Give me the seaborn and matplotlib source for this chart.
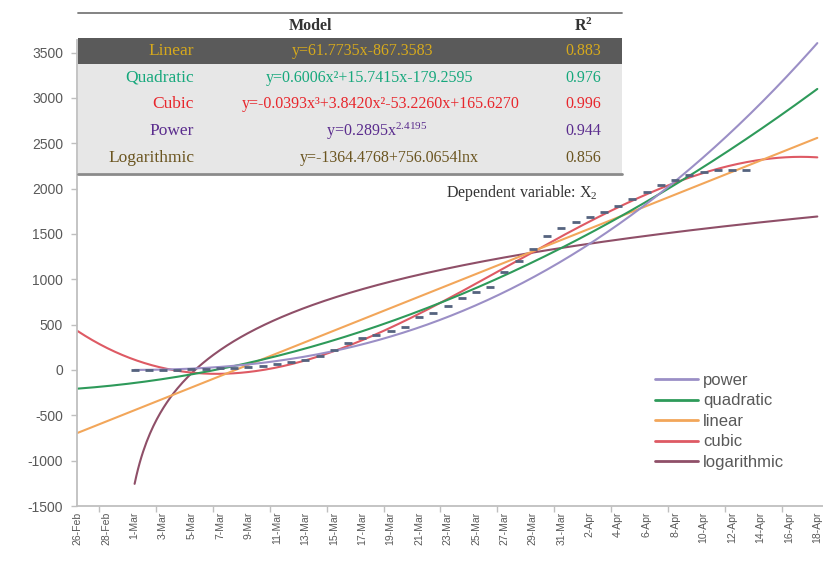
import numpy as np
import pandas as pd
import matplotlib
matplotlib.use("Agg")
import matplotlib.pyplot as plt
import seaborn as sns
from matplotlib.patches import Rectangle
from matplotlib.lines import Line2D

# Daily observations (day 1 = 1-Mar-2020)
obs_day = list(range(1, 45))
obs_value = [2, 2, 4, 5, 8, 12, 17, 24, 33, 45,
             62, 85, 105, 150, 220, 300, 350, 390, 430, 475,
             580, 630, 700, 790, 860, 920, 1080, 1200, 1330, 1480,
             1570, 1630, 1690, 1745, 1810, 1880, 1960, 2040, 2095, 2150,
             2185, 2205, 2210, 2200]

# Category axis: every second day from 26-Feb (day -3) to 18-Apr (day 49)
tick_days = list(range(-3, 50, 2))
tick_labels = ["26-Feb", "28-Feb", "1-Mar", "3-Mar", "5-Mar", "7-Mar", "9-Mar",
               "11-Mar", "13-Mar", "15-Mar", "17-Mar", "19-Mar", "21-Mar",
               "23-Mar", "25-Mar", "27-Mar", "29-Mar", "31-Mar", "2-Apr",
               "4-Apr", "6-Apr", "8-Apr", "10-Apr", "12-Apr", "14-Apr",
               "16-Apr", "18-Apr"]
y_ticks = [-1500, -1000, -500, 0, 500, 1000, 1500, 2000, 2500, 3000, 3500]

# Summary table of the fitted models
model_names = ["Linear", "Quadratic", "Cubic", "Power", "Logarithmic"]
model_eqs = ["y=61.7735x-867.3583",
             "y=0.6006x\u00b2+15.7415x-179.2595",
             "y=-0.0393x\u00b3+3.8420x\u00b2-53.2260x+165.6270",
             r"y=0.2895x$\mathregular{^{2.4195}}$",
             "y=-1364.4768+756.0654lnx"]
model_r2 = ["0.883", "0.976", "0.996", "0.944", "0.856"]
model_text_colors = ["#d6a91c", "#16a87c", "#e8262c", "#5b2d8e", "#6b5520"]

# Trend line colours (legend order)
trend_names = ["power", "quadratic", "linear", "cubic", "logarithmic"]
trend_colors = ["#9b8fc6", "#2e9a5a", "#f2a65a", "#de5a64", "#8f4f68"]

sns.set_theme(style="white")
plt.rcParams["font.family"] = ["Liberation Sans", "DejaVu Sans"]

W, H = 823, 563
fig = plt.figure(figsize=(W / 100, H / 100), dpi=100)
fig.patch.set_facecolor("white")


def fx(px):
    return px / W


def fy(py):
    return 1 - py / H


ax_left, ax_right, ax_top, ax_bottom = 77, 823, 40, 506
ax = fig.add_axes([fx(ax_left), fy(ax_bottom), fx(ax_right - ax_left),
                   (ax_bottom - ax_top) / H])
ax.set_facecolor("white")

x = np.array(obs_day, dtype=float)
y = np.array(obs_value, dtype=float)

# Least-squares trend lines, extended 4 days back and 5 days forward
x_poly = np.linspace(-3, 49, 400)
x_pos = np.linspace(1, 49, 400)
c_lin = np.polyfit(x, y, 1)
c_quad = np.polyfit(x, y, 2)
c_cub = np.polyfit(x, y, 3)
p_b, p_lna = np.polyfit(np.log(x), np.log(y), 1)
l_b, l_a = np.polyfit(np.log(x), y, 1)

curves = {
    "logarithmic": (x_pos, l_a + l_b * np.log(x_pos)),
    "cubic": (x_poly, np.polyval(c_cub, x_poly)),
    "linear": (x_poly, np.polyval(c_lin, x_poly)),
    "quadratic": (x_poly, np.polyval(c_quad, x_poly)),
    "power": (x_pos, np.exp(p_lna) * x_pos ** p_b),
}
color_of = dict(zip(trend_names, trend_colors))
for name, (xx, yy) in curves.items():
    sns.lineplot(x=xx, y=yy, ax=ax, color=color_of[name], lw=1.5,
                 sort=False, zorder=2)

obs = pd.DataFrame({"day": obs_day, "value": obs_value})
ax.plot(obs["day"], obs["value"], linestyle="none", marker="_",
        markersize=6, mew=2, color="#55637f", zorder=3)

ax.set_xlim(-3.05, 49.4)
ax.set_ylim(-1500, 3638)
ax.set_yticks(y_ticks)
ax.set_yticklabels([str(v) for v in y_ticks], fontsize=10, color="#595959")
ax.set_xticks(tick_days)
ax.set_xticklabels(tick_labels, rotation=90, fontsize=7.5, color="#595959")
ax.tick_params(axis="x", length=0, pad=4)
ax.tick_params(axis="y", length=4, width=1, color="#bfbfbf", pad=6, left=True)
ax.set_xticks(np.arange(-1.5, 49, 4), minor=True)
ax.tick_params(axis="x", which="minor", length=4, width=1, color="#bfbfbf",
               bottom=True)
for s in ["top", "right"]:
    ax.spines[s].set_visible(False)
for s in ["left", "bottom"]:
    ax.spines[s].set_color("#bfbfbf")
    ax.spines[s].set_linewidth(1.3)
ax.set_xlabel("")
ax.set_ylabel("")

# Legend in the lower right corner
handles = [Line2D([0], [0], color=c, lw=2) for c in trend_colors]
leg = fig.legend(handles, trend_names, loc="upper left",
                 bbox_to_anchor=(fx(655), fy(373)),
                 frameon=False, fontsize=12, handlelength=2.6,
                 handletextpad=0.3, labelspacing=0.33, borderaxespad=0,
                 borderpad=0)
for t in leg.get_texts():
    t.set_color("#595959")

# Model table drawn on top of the plot
tx0, tx1 = 78, 622
serif = ["Liberation Serif", "DejaVu Serif"]
fig.patches.append(Rectangle((fx(tx0), fy(64)), fx(tx1 - tx0), 26 / H,
                             transform=fig.transFigure, facecolor="#5a5a5a",
                             edgecolor="none", zorder=10))
fig.patches.append(Rectangle((fx(tx0), fy(173)), fx(tx1 - tx0), 109 / H,
                             transform=fig.transFigure, facecolor="#e7e7e7",
                             edgecolor="none", zorder=10))
fig.add_artist(Line2D([fx(tx0), fx(tx1)], [fy(13), fy(13)], color="#7a7a7a",
                      lw=1.3, transform=fig.transFigure, zorder=11))
fig.add_artist(Line2D([fx(tx0), fx(tx1)], [fy(174), fy(174)], color="#8a8a8a",
                      lw=2, transform=fig.transFigure, zorder=11))

fig.text(fx(310), fy(26), "Model", ha="center", va="center", fontsize=11.5,
         fontweight="bold", family=serif, color="#333333", zorder=12)
fig.text(fx(583), fy(26), r"R$\mathregular{^2}$", ha="center", va="center",
         fontsize=11.5, fontweight="bold", family=serif, color="#333333",
         zorder=12)
row_y = [51, 78, 104, 131, 158]
eq_x = [363, 370, 381, 377, 389]
for name, eq, r2, col, ry, ex in zip(model_names, model_eqs, model_r2,
                                      model_text_colors, row_y, eq_x):
    fig.text(fx(194), fy(ry), name, ha="right", va="center", fontsize=12.5,
             family=serif, color=col, zorder=12)
    fig.text(fx(ex), fy(ry), eq, ha="center", va="center", fontsize=11.5,
             family=serif, color=col, zorder=12)
    fig.text(fx(583), fy(ry), r2, ha="center", va="center", fontsize=11.5,
             family=serif, color=col, zorder=12)

fig.text(fx(522), fy(193), r"Dependent variable: $\mathregular{X_2}$",
         ha="center", va="center", fontsize=11.5, family=serif,
         color="#333333", zorder=12)

fig.savefig("out.png", dpi=100, facecolor="white")
